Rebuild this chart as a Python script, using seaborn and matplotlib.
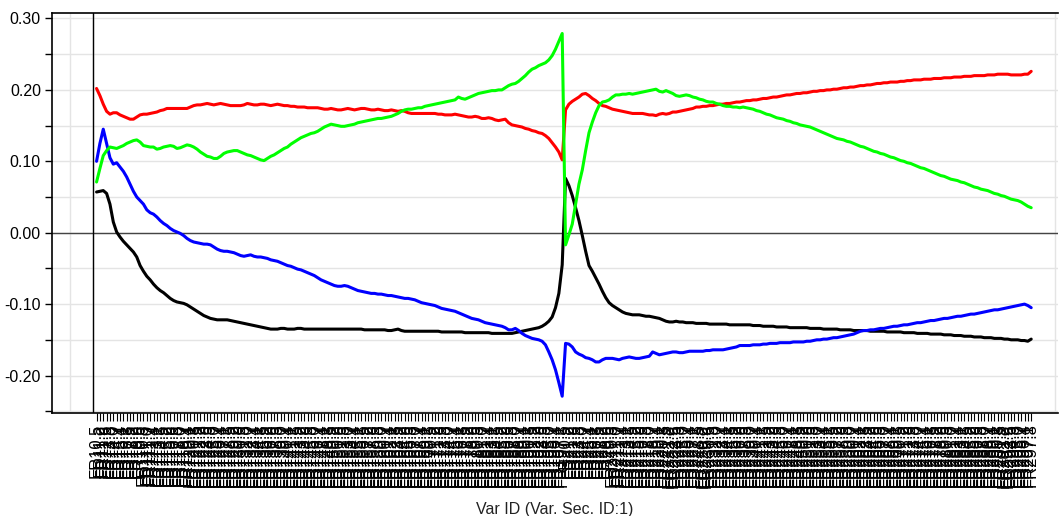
import numpy as np
import pandas as pd
import matplotlib
matplotlib.use("Agg")
import matplotlib.pyplot as plt
from matplotlib.ticker import MultipleLocator, FixedLocator, FormatStrFormatter
import seaborn as sns

# ---------------- data ----------------
steps = [f"{0.5 + 0.7 * k:.1f}" for k in range(140)]
labels_fr1 = ["FR1" + s for s in steps]
labels_fr2 = ["FR2" + s for s in steps]
var_ids = labels_fr1 + labels_fr2

red = [
    0.202, 0.192, 0.180, 0.170, 0.166, 0.168, 0.168, 0.165, 0.163, 0.161,
    0.159, 0.159, 0.162, 0.165, 0.166, 0.166, 0.167, 0.168, 0.169, 0.171,
    0.172, 0.174, 0.174, 0.174, 0.174, 0.174, 0.174, 0.174, 0.176, 0.178,
    0.179, 0.179, 0.180, 0.181, 0.180, 0.179, 0.180, 0.181, 0.180, 0.179,
    0.178, 0.178, 0.178, 0.178, 0.179, 0.181, 0.180, 0.179, 0.179, 0.180,
    0.180, 0.179, 0.178, 0.179, 0.180, 0.179, 0.178, 0.178, 0.177, 0.177,
    0.176, 0.176, 0.176, 0.175, 0.175, 0.175, 0.175, 0.174, 0.173, 0.173,
    0.174, 0.173, 0.172, 0.172, 0.173, 0.174, 0.173, 0.172, 0.173, 0.174,
    0.174, 0.173, 0.172, 0.172, 0.173, 0.172, 0.171, 0.171, 0.172, 0.171,
    0.170, 0.171, 0.170, 0.168, 0.167, 0.167, 0.167, 0.167, 0.167, 0.167,
    0.167, 0.167, 0.166, 0.166, 0.165, 0.165, 0.165, 0.166, 0.165, 0.164,
    0.163, 0.162, 0.162, 0.163, 0.162, 0.160, 0.160, 0.161, 0.160, 0.158,
    0.157, 0.158, 0.159, 0.154, 0.151, 0.150, 0.149, 0.148, 0.146, 0.145,
    0.143, 0.142, 0.140, 0.139, 0.136, 0.132, 0.126, 0.120, 0.113, 0.102,
    0.172, 0.180, 0.184, 0.187, 0.190, 0.194, 0.195, 0.192, 0.188, 0.185,
    0.181, 0.178, 0.177, 0.175, 0.173, 0.172, 0.171, 0.170, 0.169, 0.168,
    0.167, 0.167, 0.167, 0.167, 0.166, 0.165, 0.165, 0.164, 0.166, 0.167,
    0.166, 0.167, 0.169, 0.169, 0.170, 0.171, 0.172, 0.173, 0.174, 0.176,
    0.176, 0.177, 0.177, 0.178, 0.178, 0.179, 0.180, 0.180, 0.181, 0.181,
    0.182, 0.183, 0.183, 0.184, 0.185, 0.185, 0.186, 0.186, 0.187, 0.188,
    0.188, 0.189, 0.190, 0.190, 0.191, 0.192, 0.193, 0.193, 0.194, 0.195,
    0.195, 0.196, 0.196, 0.197, 0.198, 0.198, 0.199, 0.199, 0.200, 0.200,
    0.201, 0.201, 0.202, 0.203, 0.203, 0.204, 0.204, 0.205, 0.206, 0.206,
    0.207, 0.207, 0.208, 0.209, 0.209, 0.210, 0.210, 0.211, 0.211, 0.211,
    0.212, 0.212, 0.213, 0.213, 0.214, 0.214, 0.214, 0.215, 0.215, 0.215,
    0.216, 0.216, 0.216, 0.217, 0.217, 0.217, 0.218, 0.218, 0.218, 0.219,
    0.219, 0.219, 0.220, 0.220, 0.220, 0.220, 0.221, 0.221, 0.221, 0.222,
    0.222, 0.222, 0.222, 0.221, 0.221, 0.221, 0.221, 0.222, 0.222, 0.226,
]

green = [
    0.071, 0.090, 0.108, 0.115, 0.120, 0.119, 0.118, 0.120, 0.122, 0.125,
    0.127, 0.129, 0.130, 0.127, 0.122, 0.121, 0.120, 0.120, 0.117, 0.118,
    0.120, 0.121, 0.122, 0.121, 0.118, 0.119, 0.121, 0.123, 0.122, 0.120,
    0.117, 0.113, 0.110, 0.107, 0.106, 0.104, 0.104, 0.107, 0.111, 0.113,
    0.114, 0.115, 0.115, 0.113, 0.111, 0.109, 0.108, 0.106, 0.104, 0.102,
    0.101, 0.104, 0.107, 0.109, 0.112, 0.115, 0.118, 0.120, 0.124, 0.127,
    0.130, 0.133, 0.135, 0.137, 0.139, 0.140, 0.142, 0.145, 0.148, 0.150,
    0.152, 0.151, 0.150, 0.149, 0.149, 0.150, 0.151, 0.152, 0.154, 0.155,
    0.156, 0.157, 0.158, 0.159, 0.160, 0.160, 0.161, 0.162, 0.163, 0.165,
    0.167, 0.170, 0.172, 0.173, 0.173, 0.174, 0.175, 0.175, 0.177, 0.178,
    0.179, 0.180, 0.181, 0.182, 0.183, 0.184, 0.185, 0.186, 0.190, 0.188,
    0.187, 0.189, 0.191, 0.193, 0.195, 0.196, 0.197, 0.198, 0.199, 0.199,
    0.200, 0.200, 0.203, 0.206, 0.208, 0.209, 0.212, 0.216, 0.220, 0.225,
    0.229, 0.231, 0.234, 0.236, 0.238, 0.242, 0.248, 0.257, 0.268, 0.279,
    -0.017, -0.003, 0.012, 0.040, 0.068, 0.088, 0.115, 0.140, 0.155, 0.168,
    0.178, 0.183, 0.184, 0.186, 0.190, 0.193, 0.193, 0.194, 0.194, 0.195,
    0.194, 0.195, 0.196, 0.197, 0.198, 0.199, 0.200, 0.201, 0.198, 0.197,
    0.199, 0.197, 0.195, 0.192, 0.191, 0.192, 0.193, 0.192, 0.190, 0.189,
    0.187, 0.186, 0.184, 0.183, 0.183, 0.181, 0.180, 0.178, 0.177, 0.177,
    0.176, 0.176, 0.175, 0.176, 0.175, 0.174, 0.173, 0.171, 0.170, 0.168,
    0.166, 0.165, 0.163, 0.161, 0.160, 0.159, 0.157, 0.156, 0.154, 0.153,
    0.151, 0.150, 0.149, 0.148, 0.146, 0.144, 0.142, 0.140, 0.138, 0.136,
    0.134, 0.132, 0.131, 0.130, 0.128, 0.127, 0.125, 0.123, 0.121, 0.120,
    0.118, 0.116, 0.114, 0.113, 0.111, 0.110, 0.108, 0.106, 0.105, 0.103,
    0.101, 0.100, 0.098, 0.097, 0.095, 0.093, 0.091, 0.090, 0.088, 0.086,
    0.084, 0.082, 0.080, 0.079, 0.077, 0.075, 0.074, 0.073, 0.071, 0.070,
    0.068, 0.066, 0.064, 0.063, 0.061, 0.060, 0.059, 0.057, 0.055, 0.054,
    0.052, 0.051, 0.049, 0.047, 0.046, 0.045, 0.043, 0.040, 0.037, 0.035,
]

blue = [
    0.100, 0.125, 0.145, 0.125, 0.105, 0.096, 0.098, 0.092, 0.086, 0.078,
    0.068, 0.058, 0.050, 0.045, 0.040, 0.032, 0.028, 0.026, 0.022, 0.017,
    0.013, 0.010, 0.006, 0.003, 0.001, -0.001, -0.004, -0.008, -0.011, -0.013,
    -0.014, -0.015, -0.016, -0.016, -0.017, -0.020, -0.023, -0.025, -0.026, -0.026,
    -0.027, -0.028, -0.030, -0.032, -0.033, -0.032, -0.031, -0.033, -0.034, -0.034,
    -0.035, -0.036, -0.038, -0.039, -0.040, -0.042, -0.044, -0.046, -0.047, -0.049,
    -0.051, -0.052, -0.054, -0.056, -0.058, -0.060, -0.063, -0.066, -0.068, -0.070,
    -0.072, -0.074, -0.075, -0.075, -0.074, -0.075, -0.077, -0.079, -0.081, -0.082,
    -0.083, -0.084, -0.085, -0.085, -0.086, -0.086, -0.087, -0.088, -0.088, -0.089,
    -0.090, -0.091, -0.092, -0.092, -0.093, -0.094, -0.096, -0.098, -0.099, -0.100,
    -0.101, -0.102, -0.104, -0.106, -0.107, -0.108, -0.109, -0.110, -0.112, -0.114,
    -0.116, -0.118, -0.120, -0.121, -0.122, -0.124, -0.126, -0.127, -0.128, -0.129,
    -0.130, -0.131, -0.133, -0.136, -0.136, -0.134, -0.137, -0.141, -0.144, -0.146,
    -0.148, -0.149, -0.150, -0.152, -0.157, -0.167, -0.178, -0.192, -0.210, -0.229,
    -0.155, -0.156, -0.160, -0.167, -0.170, -0.172, -0.175, -0.176, -0.178, -0.181,
    -0.181, -0.178, -0.176, -0.176, -0.176, -0.177, -0.178, -0.176, -0.175, -0.174,
    -0.175, -0.176, -0.176, -0.175, -0.174, -0.173, -0.167, -0.169, -0.171, -0.170,
    -0.169, -0.168, -0.167, -0.167, -0.168, -0.168, -0.167, -0.166, -0.166, -0.166,
    -0.166, -0.166, -0.165, -0.165, -0.164, -0.164, -0.164, -0.164, -0.163, -0.162,
    -0.161, -0.160, -0.158, -0.158, -0.158, -0.158, -0.157, -0.157, -0.157, -0.156,
    -0.156, -0.155, -0.155, -0.155, -0.154, -0.154, -0.154, -0.154, -0.153, -0.153,
    -0.153, -0.153, -0.152, -0.152, -0.151, -0.150, -0.150, -0.149, -0.149, -0.148,
    -0.147, -0.147, -0.146, -0.145, -0.144, -0.143, -0.142, -0.140, -0.138, -0.137,
    -0.137, -0.136, -0.136, -0.135, -0.134, -0.134, -0.133, -0.132, -0.131, -0.131,
    -0.130, -0.129, -0.129, -0.128, -0.127, -0.126, -0.126, -0.125, -0.124, -0.123,
    -0.123, -0.122, -0.121, -0.120, -0.120, -0.119, -0.118, -0.117, -0.117, -0.116,
    -0.115, -0.114, -0.114, -0.113, -0.112, -0.111, -0.110, -0.109, -0.108, -0.108,
    -0.107, -0.106, -0.105, -0.104, -0.103, -0.102, -0.101, -0.100, -0.102, -0.105,
]

black = [
    0.057, 0.058, 0.059, 0.055, 0.040, 0.015, 0.001, -0.006, -0.012, -0.017,
    -0.022, -0.027, -0.034, -0.046, -0.054, -0.061, -0.066, -0.072, -0.077, -0.081,
    -0.084, -0.088, -0.092, -0.095, -0.097, -0.098, -0.099, -0.101, -0.104, -0.107,
    -0.110, -0.113, -0.116, -0.118, -0.120, -0.121, -0.122, -0.122, -0.122, -0.122,
    -0.123, -0.124, -0.125, -0.126, -0.127, -0.128, -0.129, -0.130, -0.131, -0.132,
    -0.133, -0.134, -0.135, -0.135, -0.135, -0.134, -0.134, -0.135, -0.135, -0.135,
    -0.134, -0.134, -0.135, -0.135, -0.135, -0.135, -0.135, -0.135, -0.135, -0.135,
    -0.135, -0.135, -0.135, -0.135, -0.135, -0.135, -0.135, -0.135, -0.135, -0.135,
    -0.136, -0.136, -0.136, -0.136, -0.136, -0.136, -0.136, -0.137, -0.137, -0.136,
    -0.135, -0.137, -0.138, -0.138, -0.138, -0.138, -0.138, -0.138, -0.138, -0.138,
    -0.138, -0.138, -0.138, -0.139, -0.139, -0.139, -0.139, -0.139, -0.139, -0.139,
    -0.140, -0.140, -0.140, -0.140, -0.140, -0.140, -0.140, -0.140, -0.141, -0.141,
    -0.141, -0.141, -0.141, -0.141, -0.141, -0.140, -0.139, -0.138, -0.137, -0.136,
    -0.135, -0.134, -0.133, -0.131, -0.128, -0.124, -0.118, -0.105, -0.085, -0.045,
    0.076, 0.066, 0.052, 0.035, 0.017, -0.004, -0.026, -0.046, -0.054, -0.063,
    -0.072, -0.082, -0.091, -0.098, -0.102, -0.105, -0.108, -0.111, -0.113, -0.114,
    -0.115, -0.115, -0.115, -0.116, -0.117, -0.117, -0.118, -0.119, -0.120, -0.122,
    -0.124, -0.125, -0.125, -0.124, -0.125, -0.125, -0.126, -0.126, -0.126, -0.127,
    -0.127, -0.127, -0.127, -0.128, -0.128, -0.128, -0.128, -0.128, -0.128, -0.129,
    -0.129, -0.129, -0.129, -0.129, -0.129, -0.129, -0.130, -0.130, -0.130, -0.131,
    -0.131, -0.131, -0.131, -0.132, -0.132, -0.132, -0.132, -0.133, -0.133, -0.133,
    -0.133, -0.133, -0.133, -0.134, -0.134, -0.134, -0.134, -0.135, -0.135, -0.135,
    -0.135, -0.135, -0.136, -0.136, -0.136, -0.136, -0.137, -0.137, -0.137, -0.137,
    -0.137, -0.138, -0.138, -0.138, -0.138, -0.138, -0.139, -0.139, -0.139, -0.139,
    -0.139, -0.140, -0.140, -0.140, -0.140, -0.141, -0.141, -0.141, -0.141, -0.142,
    -0.142, -0.142, -0.142, -0.143, -0.143, -0.143, -0.144, -0.144, -0.144, -0.145,
    -0.145, -0.145, -0.146, -0.146, -0.146, -0.147, -0.147, -0.147, -0.148, -0.148,
    -0.148, -0.149, -0.149, -0.150, -0.150, -0.150, -0.151, -0.151, -0.152, -0.149,
]

series_names = ["black", "blue", "red", "green"]
series_values = [black, blue, red, green]
series_colors = {"black": "#000000", "blue": "#0000ff", "red": "#ff0000", "green": "#00ff00"}

# ---------------- build table ----------------
pos = np.arange(1, len(var_ids) + 1)
frames = []
for name, vals in zip(series_names, series_values):
    frames.append(pd.DataFrame({"pos": pos, "value": vals, "series": name}))
df = pd.concat(frames, ignore_index=True)

# ---------------- style ----------------
sns.set_theme(style="white")
plt.rcParams["font.family"] = ["Liberation Sans", "DejaVu Sans"]
plt.rcParams["axes.unicode_minus"] = False

fig = plt.figure(figsize=(10.64, 5.16), dpi=100)
ax = fig.add_axes([52 / 1064, 103 / 516, (1058 - 52) / 1064, 400 / 516])

sns.lineplot(data=df, x="pos", y="value", hue="series", hue_order=series_names,
             palette=series_colors, linewidth=2.2, legend=False, ax=ax,
             estimator=None, sort=False, zorder=3)

ax.set_xlim(-12.3, 288.0)
ax.set_ylim(-0.2525, 0.3077)

ax.xaxis.set_major_locator(FixedLocator(pos))
ax.set_xticks(pos)
ax.set_xticklabels(var_ids, rotation=90, fontsize=12)
ax.xaxis.set_minor_locator(MultipleLocator(7))
ax.yaxis.set_major_locator(MultipleLocator(0.1))
ax.yaxis.set_minor_locator(MultipleLocator(0.05))
ax.yaxis.set_major_formatter(FormatStrFormatter("%.2f"))
ax.tick_params(axis="y", which="both", direction="out", length=5, width=1,
               color="black", labelsize=11.5, pad=3, left=True, labelcolor="black")
ax.tick_params(axis="x", which="major", direction="out", length=6, width=0.8,
               color="black", pad=1.5, bottom=True, labelcolor="black")
ax.tick_params(axis="x", which="minor", length=0)
ax.grid(True, which="minor", axis="x", color="#e4e4e4", linewidth=1, zorder=0)
ax.grid(True, which="both", axis="y", color="#e4e4e4", linewidth=1, zorder=0)
ax.set_axisbelow(True)

ax.axhline(0, color="#444444", linewidth=1, zorder=2)
ax.axvline(0, color="black", linewidth=1, zorder=2)

for side in ["left", "bottom", "top"]:
    ax.spines[side].set_visible(True)
    ax.spines[side].set_color("black")
    ax.spines[side].set_linewidth(1.2)
ax.spines["right"].set_visible(False)

ax.set_ylabel("")
ax.set_xlabel("Var ID (Var. Sec. ID:1)", fontsize=11.5, color="#222222")
ax.xaxis.set_label_coords(0.5, -0.222)

fig.savefig("out.png", dpi=100)
